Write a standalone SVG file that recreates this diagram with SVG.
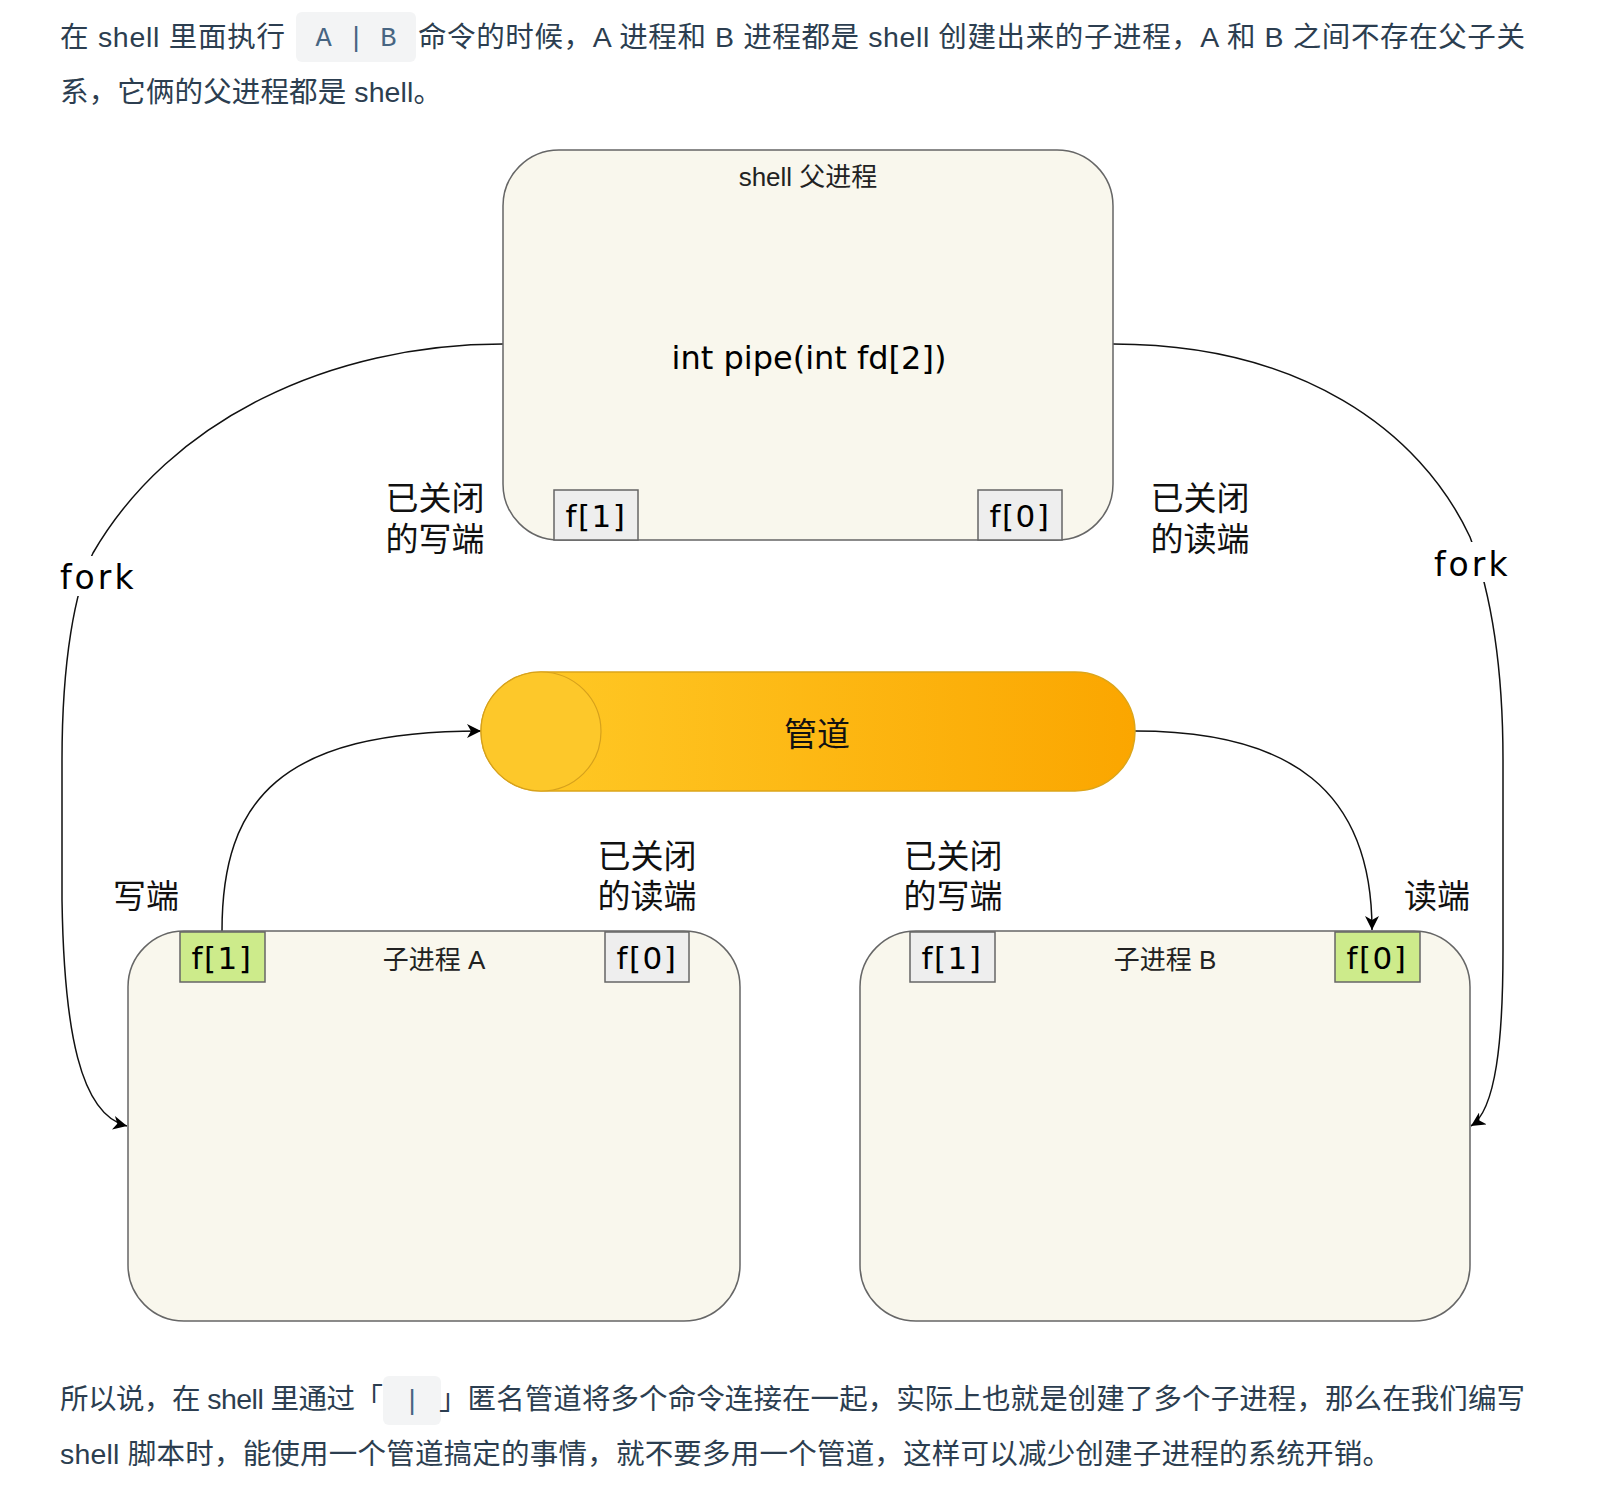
<svg xmlns="http://www.w3.org/2000/svg" width="1622" height="1486" viewBox="0 0 1622 1486">
<defs>
<linearGradient id="pipeGrad" x1="0" y1="0" x2="1" y2="0">
<stop offset="0" stop-color="#ffcb28"/>
<stop offset="1" stop-color="#fba600"/>
</linearGradient>
<marker id="arrow" markerUnits="userSpaceOnUse" markerWidth="16" markerHeight="14" refX="14" refY="7" orient="auto">
<path d="M0,0 L14,7 L0,14 L4,7 Z" fill="#000"/>
</marker>
</defs>
<style>
.p{font-family:"Liberation Sans","Noto Sans CJK SC",sans-serif;font-size:28.5px;fill:#2c3e50}
.code{fill:#f3f4f5}
.ct{font-family:"Liberation Mono","Noto Sans CJK SC",monospace;font-size:27px;fill:#476582;text-anchor:middle}
.box{fill:#f9f7ed;stroke:#666;stroke-width:1.5}
.fg{fill:#eeeeee;stroke:#666;stroke-width:1.5}
.fgreen{fill:#cdeb8b;stroke:#666;stroke-width:1.5}
.ft{font-family:"DejaVu Sans",sans-serif;font-size:31px;fill:#000;text-anchor:middle;letter-spacing:1.5px}
.lbl{font-family:"Liberation Sans","Noto Sans CJK SC",sans-serif;font-size:33px;fill:#111;text-anchor:middle}
.title{font-family:"Liberation Sans","Noto Sans CJK SC",sans-serif;font-size:26px;fill:#222;text-anchor:middle}
.edge{fill:none;stroke:#111;stroke-width:1.5}
.fork{font-family:"DejaVu Sans",sans-serif;font-size:33px;fill:#000;letter-spacing:3px}
</style>
<rect width="1622" height="1486" fill="#fff"/>

<g id="paragraph-top">
<text class="p" x="60" y="47" textLength="225" lengthAdjust="spacing">在 shell 里面执行</text>
<rect class="code" x="296" y="12" width="120" height="50" rx="6"/>
<text class="ct" x="356" y="46">A | B</text>
<text class="p" x="418" y="47" textLength="1107" lengthAdjust="spacing">命令的时候，A 进程和 B 进程都是 shell 创建出来的子进程，A 和 B 之间不存在父子关</text>
<text class="p" x="60" y="102" textLength="382" lengthAdjust="spacing">系，它俩的父进程都是 shell。</text>
</g>

<g id="connectors">
<path class="edge" d="M 503 344 C 330 344, 170 420, 93 553 C 75 590, 62 660, 62 760 L 62 900 C 64 1030, 80 1115, 127 1126" marker-end="url(#arrow)"/>
<path class="edge" d="M 1113 344 C 1300 344, 1420 430, 1470 537 C 1490 590, 1503 660, 1503 760 L 1503 950 C 1503 1040, 1496 1110, 1471 1126" marker-end="url(#arrow)"/>
<path class="edge" d="M 222 931 C 222 800, 280 731, 481 731" marker-end="url(#arrow)"/>
<path class="edge" d="M 1135 731 C 1290 731, 1372 790, 1372 930" marker-end="url(#arrow)"/>
<rect x="56" y="556" width="80" height="40" fill="#fff"/>
<text class="fork" x="60" y="589">fork</text>
<rect x="1430" y="542" width="80" height="40" fill="#fff"/>
<text class="fork" x="1434" y="576">fork</text>
</g>

<g id="parent">
<rect class="box" x="503" y="150" width="610" height="390" rx="56" ry="56"/>
<text class="title" x="808" y="186">shell 父进程</text>
<text x="809" y="369" font-family="DejaVu Sans, sans-serif" font-size="32" fill="#000" text-anchor="middle">int pipe(int fd[2])</text>
<rect class="fg" x="554" y="490" width="84" height="50"/>
<text class="ft" x="596" y="527">f[1]</text>
<rect class="fg" x="978" y="490" width="84" height="50"/>
<text class="ft" x="1020" y="527">f[0]</text>
</g>

<g id="label-parent-write">
<text class="lbl" x="435" y="510">已关闭</text>
<text class="lbl" x="435" y="551">的写端</text>
</g>
<g id="label-parent-read">
<text class="lbl" x="1200" y="510">已关闭</text>
<text class="lbl" x="1200" y="551">的读端</text>
</g>

<g id="pipe">
<path d="M 541 672 L 1075 672 A 60 59.5 0 0 1 1075 791 L 541 791 A 60 59.5 0 0 1 541 672 Z" fill="url(#pipeGrad)" stroke="#dca51a" stroke-width="1.5"/>
<ellipse cx="541" cy="731.5" rx="60" ry="59.5" fill="#fdc82a" stroke="#d6a11c" stroke-width="1.2"/>
<text class="lbl" x="817" y="746" fill="#111">管道</text>
</g>

<g id="child-a">
<rect class="box" x="128" y="931" width="612" height="390" rx="56" ry="56"/>
<text class="title" x="434" y="969">子进程 A</text>
<rect class="fgreen" x="180" y="932" width="85" height="50"/>
<text class="ft" x="222" y="969">f[1]</text>
<rect class="fg" x="605" y="932" width="84" height="50"/>
<text class="ft" x="647" y="969">f[0]</text>
</g>

<g id="child-b">
<rect class="box" x="860" y="931" width="610" height="390" rx="56" ry="56"/>
<text class="title" x="1165" y="969">子进程 B</text>
<rect class="fg" x="910" y="932" width="85" height="50"/>
<text class="ft" x="952" y="969">f[1]</text>
<rect class="fgreen" x="1335" y="932" width="85" height="50"/>
<text class="ft" x="1377" y="969">f[0]</text>
</g>

<g id="label-a-write"><text class="lbl" x="146" y="908">写端</text></g>
<g id="label-a-read">
<text class="lbl" x="647" y="868">已关闭</text>
<text class="lbl" x="647" y="908">的读端</text>
</g>
<g id="label-b-write">
<text class="lbl" x="953" y="868">已关闭</text>
<text class="lbl" x="953" y="908">的写端</text>
</g>
<g id="label-b-read"><text class="lbl" x="1437" y="908">读端</text></g>

<g id="paragraph-bottom">
<text class="p" x="60" y="1409" textLength="323" lengthAdjust="spacing">所以说，在 shell 里通过「</text>
<rect class="code" x="383" y="1376" width="58" height="49" rx="6"/>
<text class="ct" x="412" y="1409">|</text>
<text class="p" x="439" y="1409" textLength="1086" lengthAdjust="spacing">」匿名管道将多个命令连接在一起，实际上也就是创建了多个子进程，那么在我们编写</text>
<text class="p" x="60" y="1464" textLength="1331" lengthAdjust="spacing">shell 脚本时，能使用一个管道搞定的事情，就不要多用一个管道，这样可以减少创建子进程的系统开销。</text>
</g>
</svg>
